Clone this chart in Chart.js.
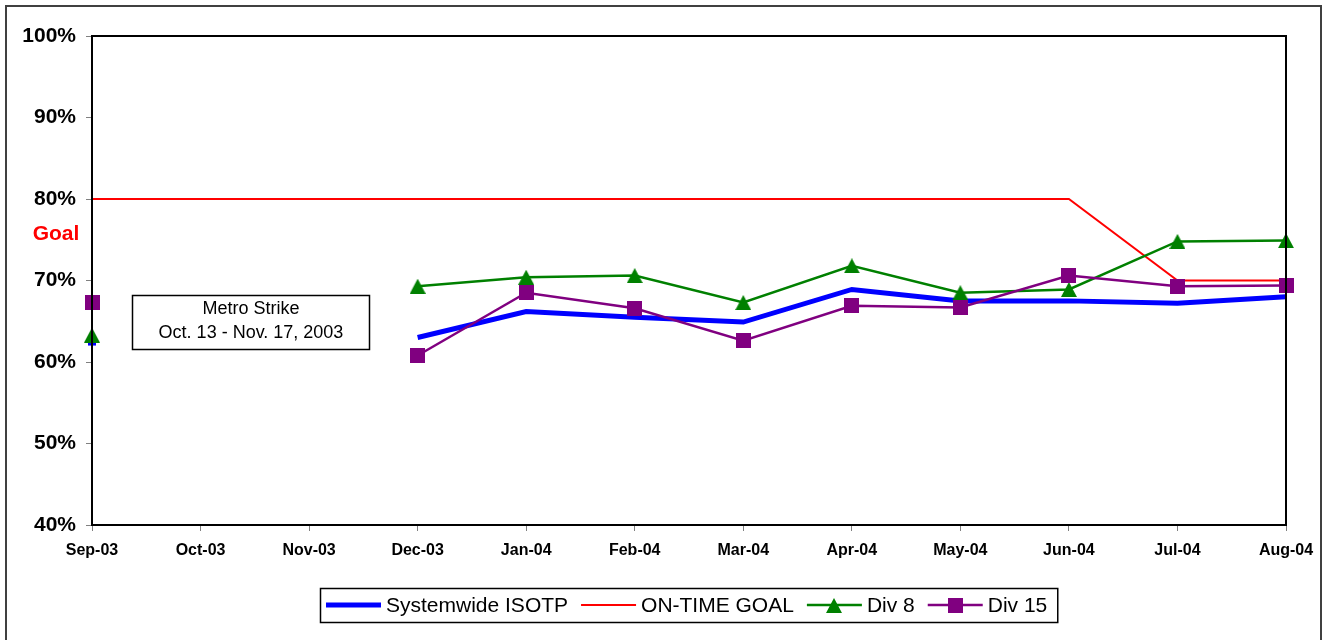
<!DOCTYPE html>
<html>
<head>
<meta charset="utf-8">
<script src="https://cdn.jsdelivr.net/npm/chart.js@4/dist/chart.umd.min.js"></script>
<style>
html,body{margin:0;padding:0;background:#fff;}
#wrap{position:absolute;left:0;top:0;width:1325px;height:640px;}
#frame{position:absolute;left:5px;top:5px;width:1317px;height:650px;border:2px solid #404040;box-sizing:border-box;}
canvas{position:absolute;left:0;top:0;}
</style>
</head>
<body>
<div id="wrap">
<div id="frame"></div>
<canvas id="c" width="1325" height="640"></canvas>
</div>
<script>
const months = ['Sep-03','Oct-03','Nov-03','Dec-03','Jan-04','Feb-04','Mar-04','Apr-04','May-04','Jun-04','Jul-04','Aug-04'];
const systemwide = [62.2, null, null, 63.0, 66.2, 65.5, 64.9, 68.9, 67.5, 67.5, 67.2, 68.0];
const goal = [80, 80, 80, 80, 80, 80, 80, 80, 80, 80, 70, 70];
const div8 = [63.3, null, null, 69.3, 70.4, 70.6, 67.3, 71.8, 68.5, 68.9, 74.8, 74.9];
const div15 = [67.3, null, null, 60.8, 68.5, 66.6, 62.6, 66.9, 66.7, 70.6, 69.3, 69.4];
const yTicks = [40, 50, 60, 70, 80, 90, 100];
const seriesNames = ['Systemwide ISOTP', 'ON-TIME GOAL', 'Div 8', 'Div 15'];
const noteLines = ['Metro Strike', 'Oct. 13 - Nov. 17, 2003'];
const goalLabel = 'Goal';

const FONT = "'Liberation Sans', Arial, Helvetica, sans-serif";

function makeTriangle(color, w, h) {
  const c = document.createElement('canvas');
  c.width = w; c.height = h;
  const g = c.getContext('2d');
  g.fillStyle = color;
  g.beginPath();
  g.moveTo(w / 2, 0);
  g.lineTo(w, h);
  g.lineTo(0, h);
  g.closePath();
  g.fill();
  return c;
}
function makeSquare(color, s) {
  const c = document.createElement('canvas');
  c.width = s; c.height = s;
  const g = c.getContext('2d');
  g.fillStyle = color;
  g.fillRect(0, 0, s, s);
  return c;
}
const triImg = makeTriangle('#008000', 16, 15);
const sqImg = makeSquare('#800080', 15);

const framePlugin = {
  id: 'framePlugin',
  afterDatasetsDraw(chart) {
    const ctx = chart.ctx, a = chart.chartArea;
    ctx.save();
    ctx.strokeStyle = '#000';
    ctx.lineWidth = 2;
    ctx.strokeRect(a.left, a.top, a.right - a.left, a.bottom - a.top);
    ctx.restore();
  },
  afterDraw(chart) {
    const ctx = chart.ctx, a = chart.chartArea;
    const ys = chart.scales.y;
    ctx.save();
    // Goal label
    ctx.fillStyle = '#ff0000';
    ctx.font = 'bold 21px ' + FONT;
    ctx.textAlign = 'center';
    ctx.textBaseline = 'middle';
    ctx.fillText(goalLabel, 56, (ys.getPixelForValue(80) + ys.getPixelForValue(70)) / 2 - 6);

    // Strike annotation box
    ctx.fillStyle = '#fff';
    ctx.fillRect(132, 295, 238, 55);
    ctx.strokeStyle = '#000';
    ctx.lineWidth = 1.5;
    ctx.strokeRect(132.5, 295.5, 237, 54);
    ctx.fillStyle = '#000';
    ctx.font = '18px ' + FONT;
    ctx.fillText(noteLines[0], 251, 309);
    ctx.fillText(noteLines[1], 251, 333);

    // Legend
    const ds = chart.data.datasets;
    ctx.font = '21px ' + FONT;
    const sample = 55, gapT = 5, gapI = 13;
    let widths = ds.map(d => ctx.measureText(d.label).width);
    let total = widths.reduce((s, w) => s + sample + gapT + w, 0) + gapI * (ds.length - 1);
    const padL = 6, padR = 10;
    const boxW = total + padL + padR;
    const cx = (a.left + a.right) / 2;
    const bx = Math.round(cx - boxW / 2);
    const by = 588, bh = 34;
    ctx.strokeStyle = '#000';
    ctx.lineWidth = 1.5;
    ctx.strokeRect(bx + 0.5, by + 0.5, boxW, bh);
    let x = bx + padL;
    const cy = by + bh / 2;
    ds.forEach((d, i) => {
      ctx.strokeStyle = d.borderColor;
      ctx.lineWidth = d.borderWidth;
      ctx.beginPath();
      ctx.moveTo(x, cy);
      ctx.lineTo(x + sample, cy);
      ctx.stroke();
      const mx = x + sample / 2;
      if (d.legendMarker) {
        const img = d.legendMarker;
        ctx.drawImage(img, Math.round(mx - img.width / 2), Math.round(cy - img.height / 2));
      }
      ctx.fillStyle = '#000';
      ctx.textAlign = 'left';
      ctx.textBaseline = 'middle';
      ctx.fillText(d.label, x + sample + gapT, cy + 1);
      x += sample + gapT + widths[i] + gapI;
    });
    ctx.restore();
  }
};

new Chart(document.getElementById('c'), {
  type: 'line',
  data: {
    labels: months,
    datasets: [
      {
        label: seriesNames[0], data: systemwide, borderColor: '#0000ff', backgroundColor: '#0000ff',
        borderWidth: 5, order: 4, spanGaps: false,
        pointStyle: 'line', pointRadius: (c) => c.dataIndex === 0 ? 4 : 0, pointBorderWidth: 3,
        pointBorderColor: '#0000ff', legendMarker: null
      },
      {
        label: seriesNames[1], data: goal, borderColor: '#ff0000', backgroundColor: '#ff0000',
        borderWidth: 2, order: 3, pointRadius: 0, legendMarker: null
      },
      {
        label: seriesNames[2], data: div8, borderColor: '#008000', backgroundColor: '#008000',
        borderWidth: 2.5, order: 2, pointStyle: triImg, pointRadius: 8, pointBorderWidth: 0,
        legendMarker: triImg
      },
      {
        label: seriesNames[3], data: div15, borderColor: '#800080', backgroundColor: '#800080',
        borderWidth: 2.5, order: 1, pointStyle: sqImg, pointRadius: 8, pointBorderWidth: 0,
        legendMarker: sqImg
      }
    ]
  },
  options: {
    responsive: false,
    animation: false,
    devicePixelRatio: 1,
    layout: { padding: { left: 0, top: 36, right: 39, bottom: 75 } },
    plugins: { legend: { display: false }, tooltip: { enabled: false } },
    elements: { line: { tension: 0 } },
    scales: {
      x: {
        offset: false,
        grid: { display: true, drawOnChartArea: false, drawTicks: true, tickLength: 6, color: '#808080' },
        border: { display: true, color: '#000', width: 2 },
        ticks: { color: '#000', font: { family: FONT, size: 16, weight: 'bold' }, padding: 10, maxRotation: 0, autoSkip: false },
        afterFit: (s) => { s.height = 40; }
      },
      y: {
        min: 40, max: 100,
        afterBuildTicks: (s) => { s.ticks = yTicks.map(v => ({ value: v })); },
        grid: { display: true, drawOnChartArea: false, drawTicks: true, tickLength: 6, color: '#808080' },
        border: { display: true, color: '#000', width: 2 },
        ticks: { color: '#000', font: { family: FONT, size: 21, weight: 'bold' }, padding: 10, callback: (v) => v + '%' },
        afterFit: (s) => { s.width = 92; }
      }
    }
  },
  plugins: [framePlugin]
});
</script>
</body>
</html>
